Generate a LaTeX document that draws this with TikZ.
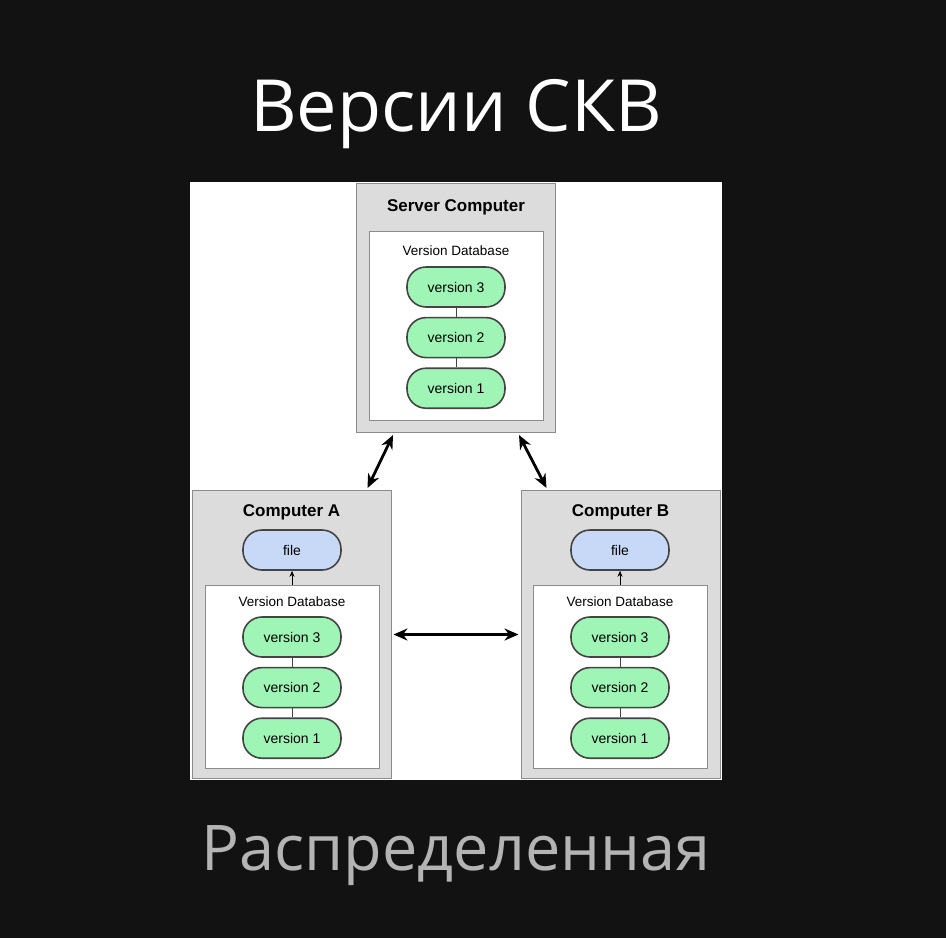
\documentclass[tikz,border=0pt]{standalone}
\usepackage{fontspec}
\setmainfont{Liberation Sans}
\newfontfamily\slidefont{Open Sans}
\usetikzlibrary{arrows.meta, positioning, calc}

\definecolor{slidebg}{HTML}{121212}
\definecolor{boxgray}{HTML}{DCDCDC}
\definecolor{framegray}{HTML}{8C8C8C}
\definecolor{pillgreen}{HTML}{9EF5B6}
\definecolor{pillblue}{HTML}{C8D9F8}
\definecolor{pilledge}{HTML}{444444}
\definecolor{subgray}{HTML}{B4B4B4}

\begin{document}
\begin{tikzpicture}[
    x=1pt, y=-1pt,
    node distance=9pt,
    machine/.style={rectangle, draw=framegray, fill=boxgray, line width=1pt, anchor=north, minimum width=199pt, inner sep=0pt},
    database/.style={rectangle, draw=framegray, fill=white, line width=1pt, anchor=north, minimum width=174pt, inner sep=0pt},
    pill/.style={rectangle, draw=pilledge, line width=1.6pt, rounded corners=19pt, minimum width=98pt, minimum height=40pt, font=\fontsize{14}{16}\selectfont},
    version/.style={pill, fill=pillgreen},
    filepill/.style={pill, fill=pillblue},
    heading/.style={font=\fontsize{17}{19}\selectfont\bfseries},
    dblabel/.style={font=\fontsize{13.5}{15}\selectfont},
    link/.style={draw=pilledge, line width=0.8pt},
    syncarrow/.style={{Stealth[length=14pt,width=12pt]}-{Stealth[length=14pt,width=12pt]}, line width=2.8pt},
    fetcharrow/.style={-{Stealth[length=6pt,width=5pt]}, line width=0.8pt}
]
% slide background
\fill[slidebg] (0,0) rectangle (946,938);
\useasboundingbox (0,0) rectangle (946,938);
\fill[white] (190,182) rectangle (722,780);

% slide texts
\node[text=white, font=\slidefont\fontsize{72}{82}\selectfont] (title) at (456,114) {Версии СКВ};
\node[text=subgray, font=\slidefont\fontsize{63}{72}\selectfont] (subtitle) at (456,856) {Распределенная};

% server computer
\node[machine, minimum height=249pt] (srv) at (456,183) {};
\node[heading] (srvname) at (456,207) {Server Computer};
\node[database, minimum height=189pt] (srvdb) at (456,231) {};
\node[dblabel] (srvdblabel) at (456,251) {Version Database};
\node[version] (srv3) at (456,287) {version 3};
\node[version, below=of srv3] (srv2) {version 2};
\node[version, below=of srv2] (srv1) {version 1};
\draw[link] (srv3) -- (srv2);
\draw[link] (srv2) -- (srv1);

% computer A
\node[machine, minimum height=288pt] (compA) at (291.5,490) {};
\node[heading] (compAname) at (291.5,512) {Computer A};
\node[filepill] (fileA) at (292,550) {file};
\node[database, minimum height=183pt] (dbA) at (292,585) {};
\node[dblabel] (dbAlabel) at (292,602) {Version Database};
\node[version] (a3) at (292,637) {version 3};
\node[version, below=of a3] (a2) {version 2};
\node[version, below=of a2] (a1) {version 1};
\draw[link] (a3) -- (a2);
\draw[link] (a2) -- (a1);
\draw[fetcharrow] (dbA.north) -- (fileA.south);

% computer B
\node[machine, minimum height=288pt] (compB) at (620.5,490) {};
\node[heading] (compBname) at (620.5,512) {Computer B};
\node[filepill] (fileB) at (620,550) {file};
\node[database, minimum height=183pt] (dbB) at (620,585) {};
\node[dblabel] (dbBlabel) at (620,602) {Version Database};
\node[version] (b3) at (620,637) {version 3};
\node[version, below=of b3] (b2) {version 2};
\node[version, below=of b2] (b1) {version 1};
\draw[link] (b3) -- (b2);
\draw[link] (b2) -- (b1);
\draw[fetcharrow] (dbB.north) -- (fileB.south);

% sync arrows
\draw[syncarrow] ($(srv.south west)+(37,2)$) -- ($(compA.north east)+(-24,-2)$);
\draw[syncarrow] ($(srv.south east)+(-37,2)$) -- ($(compB.north west)+(26,-2)$);
\draw[syncarrow] ([xshift=2pt]compA.east) -- ([xshift=-2pt]compB.west);

\end{tikzpicture}
\end{document}
